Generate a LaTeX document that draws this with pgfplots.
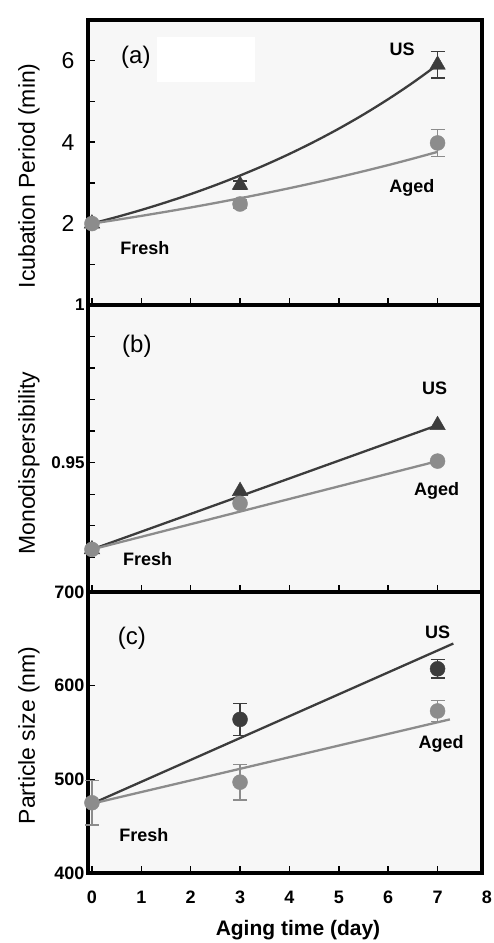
\documentclass[border=0pt]{standalone}
\usepackage{pgfplots}
\pgfplotsset{compat=1.18}
\usepackage{fontspec}
\setmainfont{Liberation Sans}
\definecolor{dk}{HTML}{3C3C3C}
\definecolor{lt}{HTML}{8C8C8C}
\definecolor{bg}{HTML}{F7F7F7}
\tikzset{lab/.style={font=\fontsize{18}{18}\selectfont\bfseries, text=black}}
\pgfplotsset{
  panel/.style={
    scale only axis, width=394pt, anchor=south west,
    xmin=-0.08, xmax=7.9, xtick={0,...,7},
    tick align=inside, xtick pos=bottom, ytick pos=left,
    axis line style={line width=3.6pt},
    major tick length=7pt, minor tick length=7pt,
    tick style={black, line width=1.4pt},
    axis background/.style={fill=bg},
    /pgf/number format/assume math mode=true,
    clip=false,
    ylabel style={font=\fontsize{23}{23}\selectfont, anchor=center},
  },
  ebar/.style={error bars/.cd, y dir=both, y explicit,
    error bar style={line width=1.5pt},
    error mark options={rotate=90, mark size=7pt, line width=1.5pt}},
}
\begin{document}
\begin{tikzpicture}
\path[use as bounding box] (0,0) rectangle (493pt,943pt);
% ---------- (a)
\begin{axis}[panel, at={(88pt,638pt)}, height=285pt,
  ymin=0, ymax=7, ytick={2,4,6}, minor ytick={1,3,5},
  xticklabels={},
  yticklabel style={font=\fontsize{23}{23}\selectfont, xshift=-10pt},
  ylabel={Icubation Period (min)},
  ylabel style={at={(axis description cs:-0.15,0.453)}},
]
\fill[white] (axis cs:1.32,5.48) rectangle (axis cs:3.30,6.58);
\addplot[dk, line width=2.3pt, smooth] coordinates {
(0,2.000) (0.5,2.161) (1,2.334) (1.5,2.522) (2,2.724) (2.5,2.943) (3,3.180)
(3.5,3.435) (4,3.711) (4.5,4.009) (5,4.331) (5.5,4.679) (6,5.055) (6.5,5.461) (7,5.900)};
\addplot[lt, line width=2.3pt, smooth] coordinates {
(0,2.000) (0.5,2.092) (1,2.189) (1.5,2.290) (2,2.395) (2.5,2.506) (3,2.622)
(3.5,2.743) (4,2.869) (4.5,3.001) (5,3.140) (5.5,3.285) (6,3.436) (6.5,3.595) (7,3.761)};
\addplot[dk, only marks, mark=triangle*, mark size=9pt, ebar] table[y error=e] {
x y e
0 2.00 0.00
3 2.95 0.10
7 5.90 0.33
};
\addplot[lt, only marks, mark=*, mark size=7.5pt, ebar] table[y error=e] {
x y e
0 2.00 0.05
3 2.48 0.10
7 3.98 0.33
};
\node[font=\fontsize{24}{24}\selectfont] at (axis cs:0.89,6.09) {(a)};
\node[lab] at (axis cs:6.28,6.29) {US};
\node[lab] at (axis cs:6.48,2.87) {Aged};
\node[lab] at (axis cs:1.07,1.40) {Fresh};
\end{axis}
% ---------- (b)
\begin{axis}[panel, at={(88pt,351pt)}, height=287pt,
  ymin=0.909, ymax=1.0, ytick={0.95,1}, yticklabels={0.95,1},
  minor ytick={0.92,0.93,0.94,0.96,0.97,0.98,0.99},
  xticklabels={},
  yticklabel style={font=\fontsize{17}{17}\selectfont\bfseries},
  ylabel={Monodispersibility},
  ylabel style={at={(axis description cs:-0.15,0.449)}},
]
\addplot[dk, line width=2.3pt] coordinates {(0,0.9225) (7,0.9619)};
\addplot[lt, line width=2.3pt] coordinates {(0,0.9225) (7,0.9505)};
\addplot[dk, only marks, mark=triangle*, mark size=9pt] coordinates {(0,0.9225) (3,0.941) (7,0.9619)};
\addplot[lt, only marks, mark=*, mark size=7.5pt] coordinates {(0,0.9225) (3,0.9371) (7,0.9505)};
\node[font=\fontsize{24}{24}\selectfont] at (axis cs:0.91,0.987) {(b)};
\node[lab] at (axis cs:6.94,0.9737) {US};
\node[lab] at (axis cs:6.98,0.941) {Aged};
\node[lab] at (axis cs:1.13,0.9194) {Fresh};
\end{axis}
% ---------- (c)
\begin{axis}[panel, at={(88pt,70pt)}, height=281pt,
  ymin=400, ymax=700, ytick={400,500,600,700},
  xticklabels={},
  yticklabel style={font=\fontsize{18}{18}\selectfont\bfseries},
  ylabel={Particle size (nm)},
  ylabel style={at={(axis description cs:-0.15,0.49)}},
  xlabel={Aging time (day)},
  xlabel style={font=\fontsize{21}{21}\selectfont\bfseries, at={(axis description cs:0.533,-0.205)}, anchor=center},
]
\addplot[dk, line width=2.3pt] coordinates {(0,474) (7.32,645)};
\addplot[lt, line width=2.3pt] coordinates {(0,474) (7.25,564)};
\addplot[dk, only marks, mark=*, mark size=7.5pt, ebar] table[y error=e] {
x y e
3 564 17
7 618 10
};
\addplot[lt, only marks, mark=*, mark size=7.5pt, ebar] table[y error=e] {
x y e
0 475 24
3 497 19
7 573 11
};
\pgfplotsinvokeforeach{0,1,2,3,4,5,6,7,8}{
  \node[font=\fontsize{18}{18}\selectfont\bfseries] at ([yshift=-24pt]axis cs:#1,400) {#1};
}
\node[font=\fontsize{24}{24}\selectfont] at (axis cs:0.81,651) {(c)};
\node[lab] at (axis cs:7.0,657) {US};
\node[lab] at (axis cs:7.07,538) {Aged};
\node[lab] at (axis cs:1.05,440) {Fresh};
\end{axis}
\end{tikzpicture}
\end{document}
